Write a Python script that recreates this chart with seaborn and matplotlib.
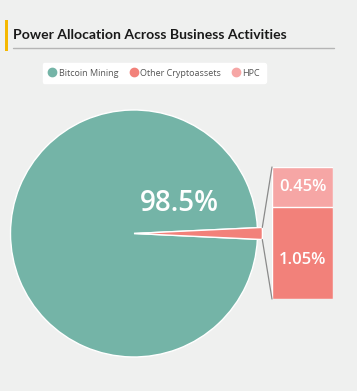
import matplotlib
matplotlib.use("Agg")
import matplotlib.pyplot as plt
from matplotlib.patches import ConnectionPatch, Rectangle
from matplotlib.lines import Line2D
import seaborn as sns
import pandas as pd
import numpy as np

# datos del grafico
categorias = ["Bitcoin Mining", "Other Cryptoassets", "HPC"]
porcentajes = [98.5, 1.05, 0.45]
colores = ["#74b4a7", "#f2817a", "#f6a6a5"]
titulo = "Power Allocation Across Business Activities"

fondo = "#eff0ef"
sns.set_theme(style="white")
plt.rcParams["font.family"] = ["Open Sans", "DejaVu Sans"]

fig = plt.figure(figsize=(3.57, 3.91), dpi=100, facecolor=fondo)

# pastel principal
ax_pie = fig.add_axes([0.0294, 0.0870, 0.6919, 0.6317])
ax_pie.set_facecolor(fondo)
resto = sum(porcentajes[1:])
angulo = resto / 100 * 360 / 2
wedges, _ = ax_pie.pie([porcentajes[0], resto], colors=[colores[0], colores[1]],
                       startangle=angulo, counterclock=True,
                       wedgeprops=dict(edgecolor="white", linewidth=1))
wedges[1].set_radius(1.04)
ax_pie.set_xlim(-1, 1)
ax_pie.set_ylim(-1, 1)
ax_pie.set_aspect("equal")
ax_pie.axis("off")
ax_pie.text(0.37, 0.245, f"{porcentajes[0]}%", color="white", fontsize=20,
            fontweight="semibold", ha="center", va="center")

# barra apilada (otros + HPC)
ax_bar = fig.add_axes([0.7619, 0.2353, 0.1709, 0.3376])
ax_bar.set_facecolor(fondo)
df_bar = pd.DataFrame({"x": [""], "total": [resto], "otros": [porcentajes[1]]})
sns.barplot(data=df_bar, x="x", y="total", color=colores[2], width=1,
            edgecolor="white", linewidth=1, saturation=1, ax=ax_bar)
sns.barplot(data=df_bar, x="x", y="otros", color=colores[1], width=1,
            edgecolor="white", linewidth=1, saturation=1, ax=ax_bar)
ax_bar.set_xlim(-0.5, 0.5)
ax_bar.set_ylim(0, resto)
ax_bar.axis("off")
ax_bar.text(0, porcentajes[1] * 0.42, f"{porcentajes[1]}%", color="white",
            fontsize=12, fontweight="semibold", ha="center", va="center")
ax_bar.text(0, porcentajes[1] + porcentajes[2] / 2, f"{porcentajes[2]}%",
            color="white", fontsize=12, fontweight="semibold",
            ha="center", va="center")

# lineas de conexion
r = 1.04
for signo, yb in [(1, resto), (-1, 0)]:
    xa = r * np.cos(np.radians(angulo))
    ya = signo * r * np.sin(np.radians(angulo))
    con = ConnectionPatch(xyA=(xa, ya), coordsA=ax_pie.transData,
                          xyB=(-0.5, yb), coordsB=ax_bar.transData,
                          color="#8a8a8a", linewidth=0.9)
    fig.add_artist(con)

# titulo con barra naranja y subrayado
fig.text(13 / 357, 1 - 35 / 391, titulo, fontsize=10.1, fontweight="bold",
         color="#1a1a1a", ha="left", va="center", family=["Lato", "DejaVu Sans"])
fig.add_artist(Rectangle((5 / 357, 1 - 51 / 391), 2.5 / 357, 31 / 391,
                         transform=fig.transFigure, color="#f5b800", lw=0))
fig.add_artist(Line2D([13 / 357, 334 / 357], [1 - 47.5 / 391] * 2,
                      transform=fig.transFigure, color="#b5b5b5", lw=1))

# leyenda
handles = [Line2D([], [], marker="o", linestyle="", markersize=6,
                  markerfacecolor=c, markeredgecolor=c) for c in colores]
leg = fig.legend(handles, categorias, loc="center", ncol=3,
                 bbox_to_anchor=(154 / 357, 1 - 73 / 391), frameon=True,
                 fancybox=True, fontsize=6.5, handletextpad=0.2,
                 columnspacing=1.2, borderpad=0.6, handlelength=1.0,
                 labelcolor="#555555")
leg.get_frame().set_facecolor("white")
leg.get_frame().set_edgecolor("white")
leg.get_frame().set_alpha(1)

fig.savefig("out.png", dpi=100, facecolor=fondo)
